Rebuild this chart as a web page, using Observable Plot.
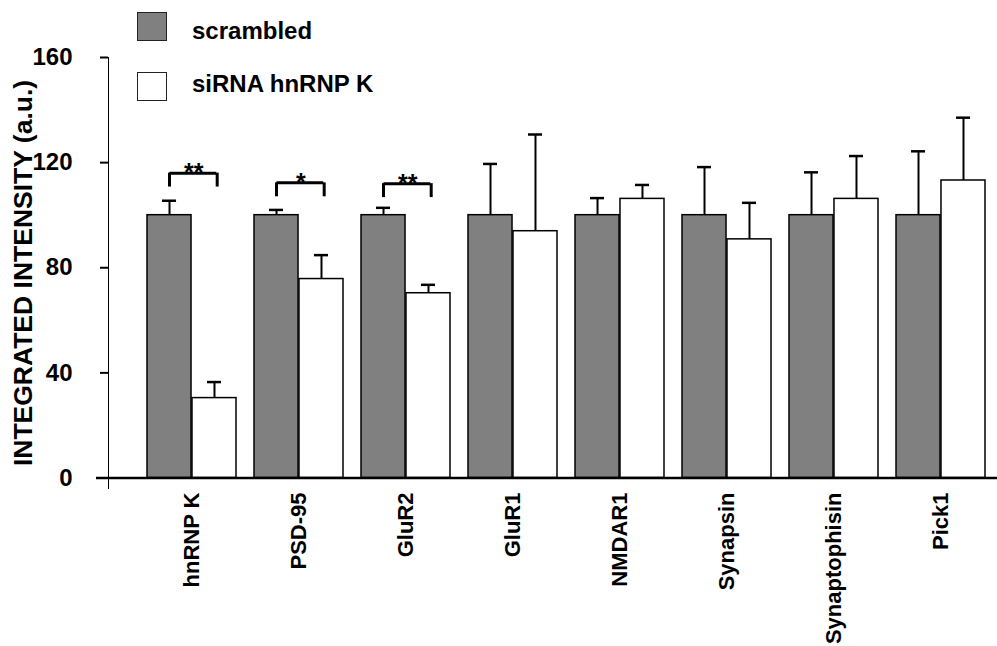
<!DOCTYPE html>
<html>
<head>
<meta charset="utf-8">
<script src="https://cdn.jsdelivr.net/npm/d3@7"></script>
<script src="https://cdn.jsdelivr.net/npm/@observablehq/plot@0.6"></script>
<style>
  html, body { margin: 0; padding: 0; background: #fff; }
  #wrap { position: relative; width: 997px; height: 646px; font-family: "Liberation Sans", Arial, sans-serif; }
  #chart { position: absolute; left: 0; top: 0; }
  .swatch { position: absolute; left: 137px; width: 30px; height: 29px; border: 1.5px solid #222; box-sizing: border-box; }
  .legend-label { position: absolute; left: 192px; font-size: 24px; font-weight: bold; line-height: 24px; white-space: nowrap; color: #000; }
  svg [aria-label="y-axis tick"] path, svg [aria-label="y-axis line"] path, svg [aria-label="y-axis line"] line { stroke-width: 2px; }
  svg [aria-label="x-axis tick label"] text { font-size: 22px; }
</style>
</head>
<body>
<div id="wrap">
  <div id="chart"></div>
  <div class="swatch" style="top:12px; background:#808080;"></div>
  <div class="legend-label" style="top:19px;">scrambled</div>
  <div class="swatch" style="top:72px; background:#fff;"></div>
  <div class="legend-label" style="top:72px;">siRNA hnRNP K</div>
</div>
<script>
// ---- data ----
const categories = ["hnRNP K", "PSD-95", "GluR2", "GluR1", "NMDAR1", "Synapsin", "Synaptophisin", "Pick1"];
const scrambled    = [100, 100, 100, 100, 100, 100, 100, 100];
const scrambledErr = [5.5, 2.0, 2.8, 19.5, 6.5, 18.3, 16.3, 24.3];
const sirna        = [30.4, 75.7, 70.3, 93.9, 106.2, 90.8, 106.2, 113.2];
const sirnaErr     = [6.1, 9.1, 3.2, 36.8, 5.3, 13.9, 16.3, 23.9];
const sigCategories = ["hnRNP K", "PSD-95", "GluR2"];
const sigLabels     = ["**", "*", "**"];
const sigLevels     = [116, 112.3, 112];
const sigLegDrop    = [5.3, 5.3, 5.3];
const yTicks = [0, 40, 80, 120, 160];
const yTitle = "INTEGRATED INTENSITY (a.u.)";

const rows = categories.map((c, i) => ({
  category: c,
  scrambled: scrambled[i], scrambledTop: scrambled[i] + scrambledErr[i],
  sirna: sirna[i], sirnaTop: sirna[i] + sirnaErr[i]
}));
const sig = sigCategories.map((c, i) => ({category: c, label: sigLabels[i], level: sigLevels[i], low: sigLevels[i] - sigLegDrop[i]}));

// ---- layout ----
const W = 997, H = 646, mL = 108, mR = 0, mT = 57, mB = 158;
const pInner = 0.164, pOuter = 0.213, align = 0.78;
const bw = d3.scaleBand(categories, [mL, W - mR]).paddingInner(pInner).paddingOuter(pOuter).align(align).bandwidth();
const capHalf = 7.5;

const plot = Plot.plot({
  width: W, height: H,
  marginLeft: mL, marginRight: mR, marginTop: mT, marginBottom: mB,
  style: {fontFamily: "Liberation Sans, Arial, sans-serif", fontSize: "24px", fontWeight: "bold", background: "white", color: "black", overflow: "visible"},
  x: {domain: categories, paddingInner: pInner, paddingOuter: pOuter, align, tickSize: 0, tickPadding: 4, tickRotate: -90, label: null},
  y: {domain: [-4, 160], ticks: yTicks, tickSize: 8, tickPadding: 28, line: true, label: null},
  marks: [
    Plot.barY(rows, {x: "category", y: "scrambled", fill: "#808080", stroke: "#000", strokeWidth: 1.5, insetRight: bw / 2}),
    Plot.barY(rows, {x: "category", y: "sirna", fill: "#fff", stroke: "#000", strokeWidth: 1.5, insetLeft: bw / 2}),
    // error bars
    Plot.ruleX(rows, {x: "category", y1: "scrambled", y2: "scrambledTop", dx: -bw / 4, stroke: "#000", strokeWidth: 2}),
    Plot.ruleX(rows, {x: "category", y1: "sirna", y2: "sirnaTop", dx: bw / 4, stroke: "#000", strokeWidth: 2}),
    Plot.tickY(rows, {x: "category", y: "scrambledTop", insetLeft: bw / 4 - capHalf, insetRight: 3 * bw / 4 - capHalf, stroke: "#000", strokeWidth: 2.5}),
    Plot.tickY(rows, {x: "category", y: "sirnaTop", insetLeft: 3 * bw / 4 - capHalf, insetRight: bw / 4 - capHalf, stroke: "#000", strokeWidth: 2.5}),
    // significance brackets
    Plot.tickY(sig, {x: "category", y: "level", insetLeft: 0.25 * bw, insetRight: 0.22 * bw, stroke: "#000", strokeWidth: 3}),
    Plot.ruleX(sig, {x: "category", y1: "low", y2: "level", dx: -0.25 * bw, stroke: "#000", strokeWidth: 3}),
    Plot.ruleX(sig, {x: "category", y1: "low", y2: "level", dx: 0.28 * bw, stroke: "#000", strokeWidth: 3}),
    Plot.text(sig, {x: "category", y: "level", text: "label", dx: 0.02 * bw, fontSize: 25, fontWeight: "bold", fill: "#000"}),
    // baseline
    Plot.ruleY([0], {stroke: "#000", strokeWidth: 2.5, insetLeft: -12}),
    // y title
    Plot.text([yTitle], {frameAnchor: "left", textAnchor: "middle", lineAnchor: "middle", rotate: -90, dx: -85, fontSize: 26.5, fontWeight: "bold", fill: "#000"})
  ]
});
document.getElementById("chart").appendChild(plot);
</script>
</body>
</html>
